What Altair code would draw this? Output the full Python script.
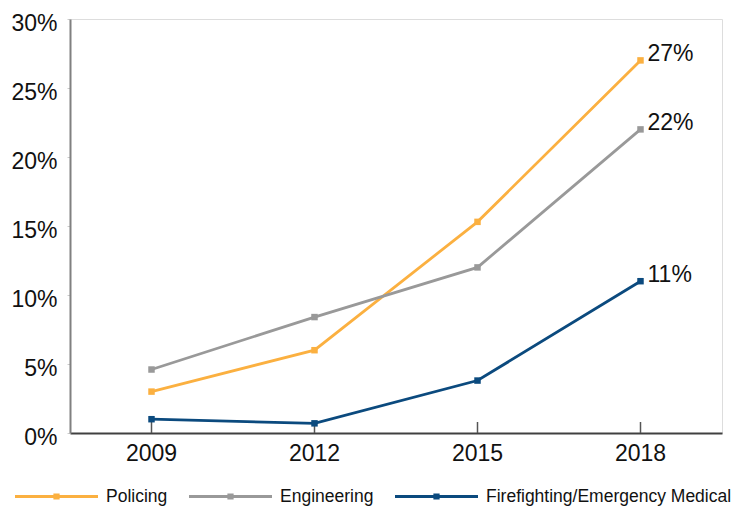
import altair as alt
import pandas as pd

years = ["2009", "2012", "2015", "2018"]
series_names = ["Policing", "Engineering", "Firefighting/Emergency Medical"]
policing = [3.0, 6.0, 15.3, 27.0]
engineering = [4.6, 8.4, 12.0, 22.0]
firefighting = [1.0, 0.7, 3.8, 11.0]
end_labels = ["27%", "22%", "11%"]
colors = ["#FBB040", "#999999", "#0B4A7E"]

rows = []
for name, vals, lab in zip(series_names, [policing, engineering, firefighting], end_labels):
    for i, (y, v) in enumerate(zip(years, vals)):
        rows.append({"year": y, "series": name, "line_series": name, "value": v,
                     "label": lab if i == len(years) - 1 else ""})
df = pd.DataFrame(rows)
years_df = pd.DataFrame({"year": years})

FONT = "Liberation Sans"
W, H = 652, 414

x_enc = alt.X("year:O", title=None, sort=years,
              axis=alt.Axis(labelAngle=0, labelFontSize=23, labelPadding=9,
                            ticks=False, domainColor="#404040", domainWidth=2,
                            labelColor="#111111", labelFont=FONT))
y_enc = alt.Y("value:Q", title=None,
              scale=alt.Scale(domain=[0, 30], nice=False),
              axis=alt.Axis(values=[0, 5, 10, 15, 20, 25, 30],
                            labelExpr="datum.value + '%'",
                            labelFontSize=23, labelPadding=10, labelOffset=4,
                            tickSize=3, tickColor="#cccccc",
                            domainColor="#808080", domainWidth=2,
                            grid=False, labelColor="#111111", labelFont=FONT))

legend_path = "M-1,-0.035H1V0.035H-1Z M-0.075,-0.075H0.075V0.075H-0.075Z"

lines = alt.Chart(df).mark_line(strokeWidth=2.8).encode(
    x=x_enc, y=y_enc,
    stroke=alt.Stroke("line_series:N", scale=alt.Scale(domain=series_names, range=colors),
                      legend=None),
    detail="line_series:N",
)

points = alt.Chart(df).mark_square(size=42, filled=True, opacity=1).encode(
    x=x_enc, y=y_enc,
    color=alt.Color("series:N", scale=alt.Scale(domain=series_names, range=colors),
                    legend=alt.Legend(title=None, orient="none", direction="horizontal",
                                      legendX=-55, legendY=436,
                                      symbolType=legend_path, symbolSize=6889,
                                      symbolStrokeWidth=0, symbolOpacity=1,
                                      labelFontSize=17.5, labelFont=FONT,
                                      labelColor="#111111", labelOffset=8,
                                      labelLimit=400, columnPadding=21)),
)

texts = alt.Chart(df).transform_filter("datum.label != ''").mark_text(
    align="left", baseline="middle", dx=7, dy=-6, fontSize=23, font=FONT,
    color="#111111"
).encode(x=x_enc, y=y_enc, text="label:N")

xticks = alt.Chart(years_df).mark_rule(color="#555555", strokeWidth=1.5).encode(
    x=alt.X("year:O", sort=years), y=alt.value(H - 11), y2=alt.value(H)
)

chart = alt.layer(lines, xticks, points, texts).resolve_scale(
    color="independent", stroke="independent"
).properties(
    width=W, height=H,
    autosize=alt.AutoSizeParams(type="none"),
    padding={"left": 62, "top": 11, "right": 15, "bottom": 76},
).configure_view(stroke=None).configure(font=FONT)

chart.save("out.html", embed_options={"renderer": "svg", "actions": False})
